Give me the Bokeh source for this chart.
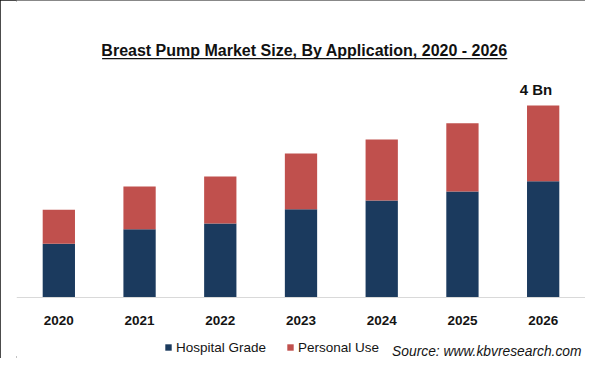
from bokeh.plotting import figure
from bokeh.models import ColumnDataSource, Label, BoxAnnotation, Range1d, FactorRange, Span
from bokeh.core.properties import value
from bokeh.embed import file_html
from bokeh.resources import INLINE

# ---- data ----
years = ["2020", "2021", "2022", "2023", "2024", "2025", "2026"]
hospital = [1.12, 1.42, 1.54, 1.84, 2.02, 2.21, 2.42]
personal = [0.71, 0.89, 0.98, 1.16, 1.27, 1.42, 1.58]
series_names = ["Hospital Grade", "Personal Use"]
series_colors = ["#1b3a5e", "#c0504d"]
title_text = "Breast Pump Market Size, By Application, 2020 - 2026"
total_label = "4 Bn"
source_text = "Source: www.kbvresearch.com"

FONT = "Liberation Sans"
TEXT = "#141414"

source = ColumnDataSource(dict(year=years, hospital=hospital, personal=personal))

p = figure(
    x_range=FactorRange(*years, range_padding=0.007),
    y_range=Range1d(-1.271, 6.1875),
    width=585,
    height=358,
    title=None,
    toolbar_location=None,
    output_backend="svg",
    x_axis_location=None,
    y_axis_location=None,
    min_border_left=16,
    min_border_right=0,
    min_border_top=0,
    min_border_bottom=0,
)
p.outline_line_color = None
p.background_fill_color = "white"
p.border_fill_color = "white"
p.grid.visible = False
p.styles = {"outline": "2px solid #111111", "outline-offset": "-2px"}

p.vbar_stack(
    ["hospital", "personal"],
    x="year",
    width=0.4,
    color=series_colors,
    line_color=None,
    source=source,
    legend_label=series_names,
)

# baseline (category axis line)
p.add_layout(Span(location=0, dimension="width", line_color="#d9d9d9", line_width=1))

# category labels
p.text(x="year", y=-0.479, text="year", source=source,
       text_align="center", text_baseline="middle",
       text_font=value(FONT), text_font_style="bold",
       text_font_size="13.5px", text_color=TEXT)

# legend below the bars
lg = p.legend[0]
lg.orientation = "horizontal"
lg.location = (148, 3)
lg.padding = 0
lg.margin = 0
lg.spacing = 20
lg.border_line_color = None
lg.background_fill_alpha = 0
lg.glyph_width = 8
lg.glyph_height = 8
lg.label_height = 16
lg.label_standoff = 4
lg.label_text_font = FONT
lg.label_text_font_size = "13.5px"
lg.label_text_color = TEXT

# title with underline
p.add_layout(Label(x=3.544, y=5.146, text=title_text, text_align="center",
                   text_baseline="middle", text_font=FONT,
                   text_font_style="bold", text_font_size="16px",
                   text_color="#111111"))
p.add_layout(BoxAnnotation(left=1.036, right=6.056, bottom=4.962, top=4.99,
                           fill_color="#111111", fill_alpha=1, line_color=None))

# total label above last bar
p.add_layout(Label(x=6.41, y=hospital[-1] + personal[-1], y_offset=16, text=total_label,
                   text_align="center", text_baseline="middle",
                   text_font=FONT, text_font_style="bold",
                   text_font_size="15px", text_color="#111111"))

# source note
p.add_layout(Label(x=6.975, y=-1.135, text=source_text, text_align="right",
                   text_baseline="middle", text_font=FONT,
                   text_font_style="italic", text_font_size="13.8px",
                   text_color=TEXT))

open("out.html", "w").write(file_html(p, INLINE))
